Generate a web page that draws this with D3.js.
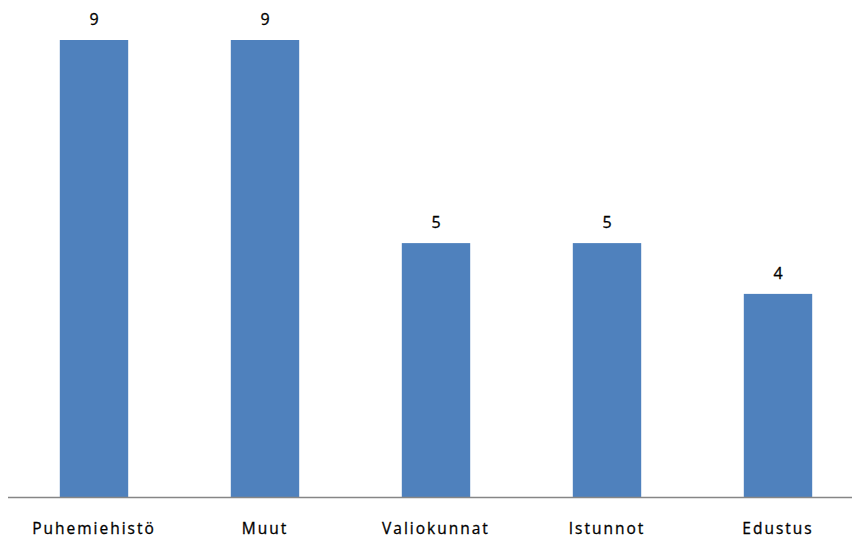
<!DOCTYPE html>
<html>
<head>
<meta charset="utf-8">
<script src="https://cdn.jsdelivr.net/npm/d3@7"></script>
<style>
  html, body { margin: 0; padding: 0; background: #fff; }
  svg { display: block; }
  text { font-family: "Open Sans", "DejaVu Sans", sans-serif; }
</style>
</head>
<body>
<svg id="chart" width="852" height="545"></svg>
<script>
const categories = ["Puhemiehistö", "Muut", "Valiokunnat", "Istunnot", "Edustus"];
const values = [9, 9, 5, 5, 4];

const svg = d3.select("#chart");
const baseY = 497;

const x = d3.scaleBand()
  .domain(categories)
  .range([8.5, 863.5])
  .paddingInner(0.6)
  .paddingOuter(0.3);

const y = d3.scaleLinear()
  .domain([0, 9])
  .range([baseY, 40]);

// bars
svg.append("g").selectAll("rect")
  .data(categories)
  .join("rect")
  .attr("x", d => x(d))
  .attr("width", x.bandwidth())
  .attr("y", (d, i) => y(values[i]))
  .attr("height", (d, i) => baseY - y(values[i]))
  .attr("fill", "#4f81bd");

// value labels
svg.append("g").selectAll("text")
  .data(categories)
  .join("text")
  .attr("x", d => x(d) + x.bandwidth() / 2)
  .attr("y", (d, i) => y(values[i]) - 15)
  .attr("text-anchor", "middle")
  .attr("font-size", 16)
  .attr("fill", "#000")
  .attr("stroke", "#000")
  .attr("stroke-width", 0.3)
  .text((d, i) => values[i]);

// category axis
const axis = svg.append("g")
  .attr("transform", `translate(0,${baseY})`)
  .call(d3.axisBottom(x).tickSize(0).tickPadding(0));
axis.select(".domain").attr("d", "M8,0.5H852").attr("stroke", "#868686").attr("stroke-width", 1.5);
axis.selectAll(".tick text")
  .attr("dy", null)
  .attr("y", 37)
  .attr("font-size", 15.5)
  .attr("letter-spacing", 2)
  .attr("fill", "#000")
  .attr("stroke", "#000")
  .attr("stroke-width", 0.3)
  .style("font-family", "'Open Sans', 'DejaVu Sans', sans-serif");
</script>
</body>
</html>
